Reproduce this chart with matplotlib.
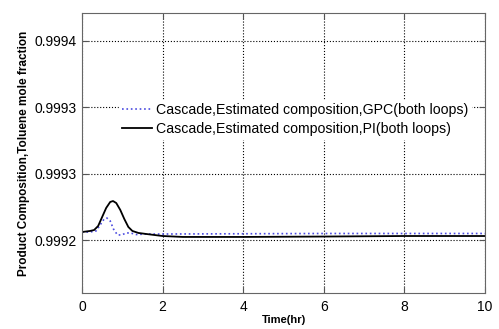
import numpy as np
import matplotlib
matplotlib.use('Agg')
import matplotlib.pyplot as plt

plt.rcParams['font.family'] = ['Liberation Sans', 'DejaVu Sans']

# time axis (hr) and product composition
t_pi = [0.0, 0.2, 0.3, 0.4, 0.5, 0.6, 0.7, 0.77, 0.85, 0.95, 1.05, 1.15, 1.25,
        1.4, 1.6, 2.0, 2.5, 4.0, 6.0, 8.0, 10.0]
x_pi = [0.9992060, 0.9992068, 0.9992075, 0.9992105, 0.9992173, 0.9992241,
        0.9992286, 0.9992293, 0.9992278, 0.9992226, 0.9992158, 0.9992098,
        0.9992068, 0.9992053, 0.9992045, 0.9992030, 0.9992023, 0.9992023,
        0.9992026, 0.9992030, 0.9992030]

t_gpc = [0.0, 0.2, 0.35, 0.45, 0.55, 0.62, 0.7, 0.78, 0.88, 0.98, 1.1, 1.2,
         1.35, 1.6, 2.0, 4.0, 6.0, 8.0, 10.0]
x_gpc = [0.9992060, 0.9992060, 0.9992068, 0.9992113, 0.9992158, 0.9992165,
         0.9992143, 0.9992083, 0.9992038, 0.9992038, 0.9992053, 0.9992053,
         0.9992041, 0.9992045, 0.9992045, 0.9992047, 0.9992049, 0.9992049,
         0.9992049]

yticks = [0.99920, 0.99925, 0.99930, 0.99935]
ytick_labels = ['0.9992', '0.9993', '0.9993', '0.9994']
xticks = [0, 2, 4, 6, 8, 10]

fig = plt.figure(figsize=(4.99, 3.29), dpi=100)
ax = fig.add_axes([82/499, 36/329, 403/499, 280/329])

ax.plot(t_gpc, x_gpc, ':', color='#4a4ae0', lw=1.2,
        label='Cascade,Estimated composition,GPC(both loops)')
ax.plot(t_pi, x_pi, '-', color='black', lw=1.3,
        label='Cascade,Estimated composition,PI(both loops)')

ax.set_xlim(0, 10)
ax.set_ylim(0.99916015, 0.99937068)
ax.set_xticks(xticks)
ax.set_yticks(yticks)
ax.set_yticklabels(ytick_labels)
ax.tick_params(direction='in', top=True, right=True, labelsize=10, length=4,
               color='#555555', pad=5)
ax.tick_params(axis='y', pad=4)
ax.grid(True, linestyle=':', color='black', lw=0.8)
for s in ax.spines.values():
    s.set_color('#666666')

ax.set_xlabel('Time(hr)', fontsize=8, fontweight='bold', labelpad=1)
ax.set_ylabel('Product Composition,Toluene mole fraction', fontsize=8.5,
              fontweight='bold', labelpad=3)

leg = ax.legend(loc='center left', bbox_to_anchor=(0.075, 0.62), fontsize=10.2,
                frameon=True, fancybox=False, edgecolor='white',
                handlelength=2.1, handletextpad=0.3, borderpad=0.2,
                labelspacing=0.4)
leg.get_frame().set_alpha(1)

fig.savefig('out.png', dpi=100)
